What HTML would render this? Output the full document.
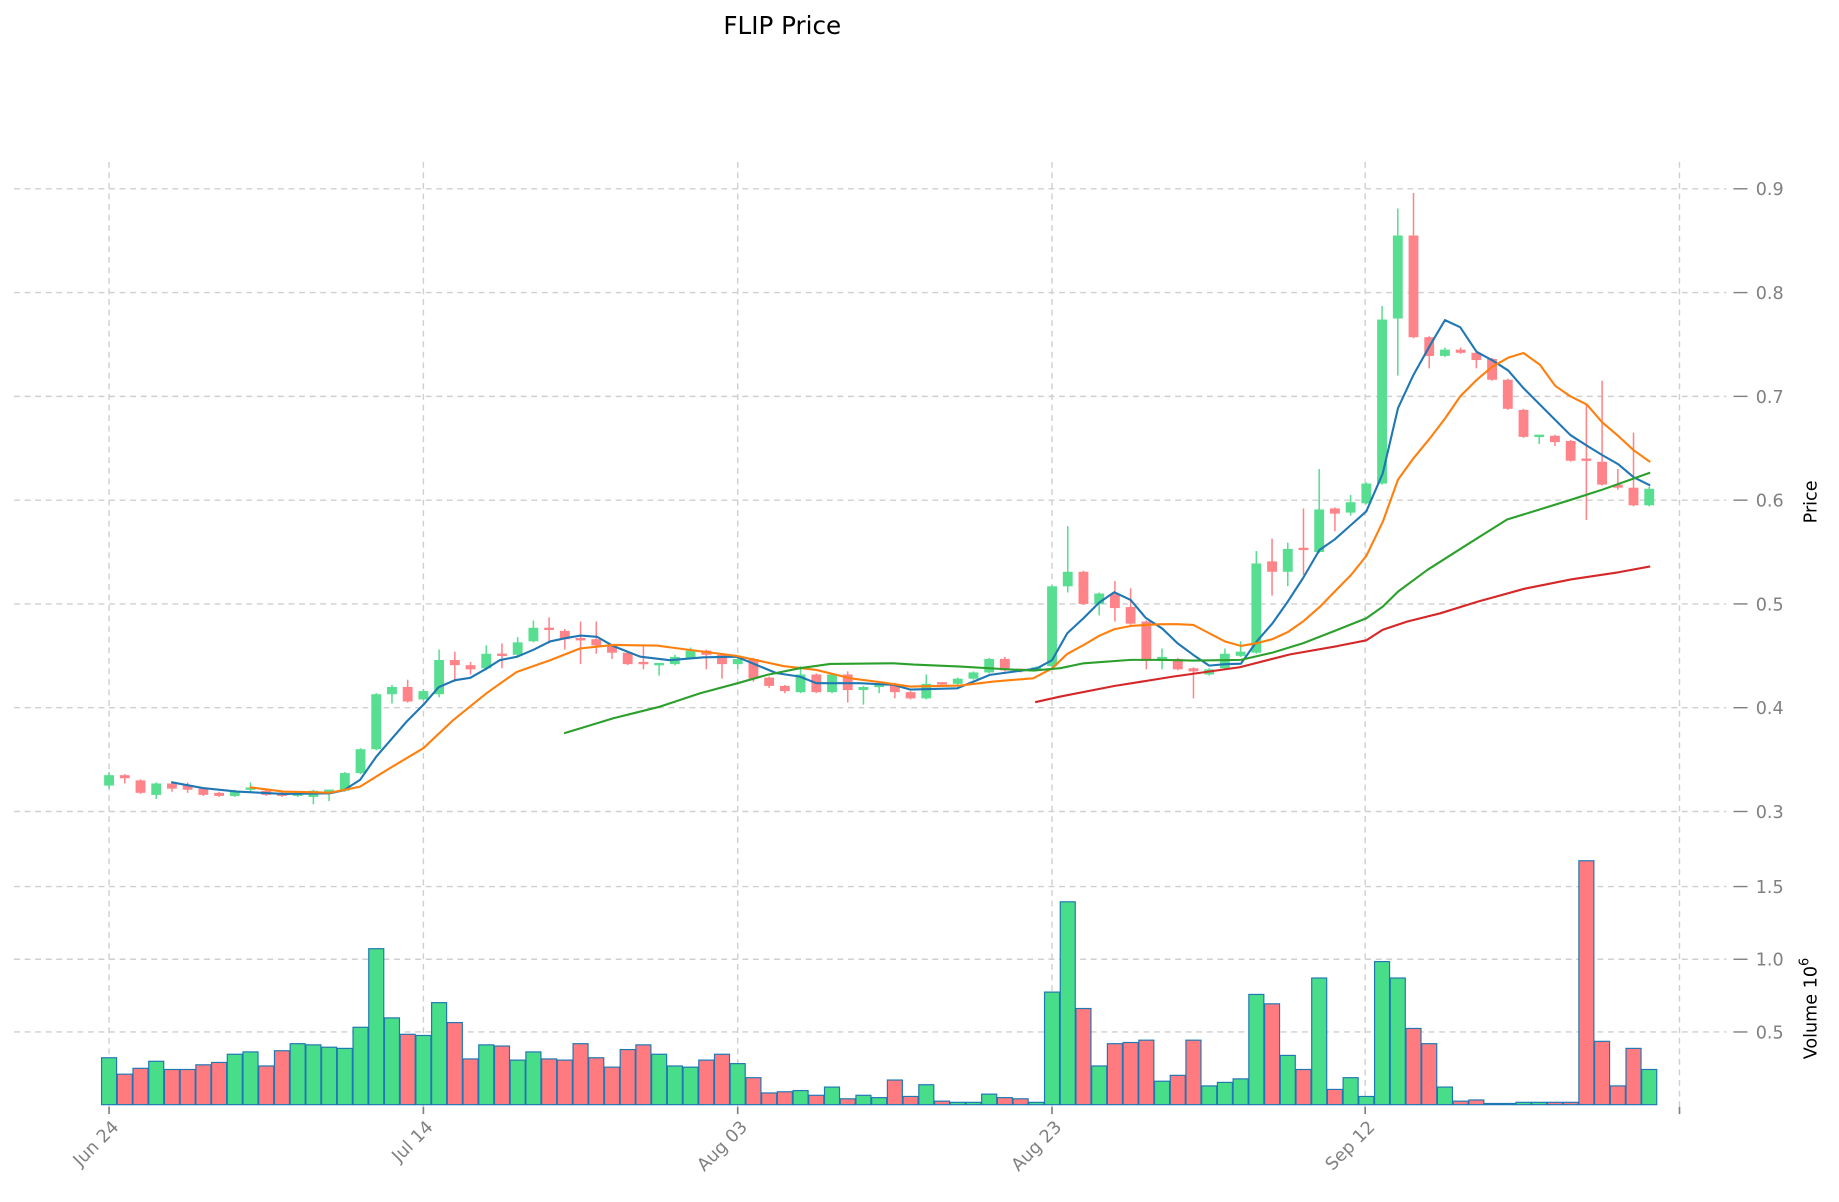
<!DOCTYPE html>
<html><head><meta charset="utf-8"><style>html,body{margin:0;padding:0;background:#fff}svg{display:block}</style></head>
<body>
<svg id="c" xmlns="http://www.w3.org/2000/svg" width="1839" height="1202" viewBox="0 0 1568 1025" preserveAspectRatio="none" font-family="'DejaVu Sans','Liberation Sans',sans-serif">
<rect width="1568" height="1025" fill="#fff"/>
<g id="grid" stroke="#cfcfcf" stroke-width="1.2" stroke-dasharray="5,4" fill="none"></g>
<g id="vol"></g>
<g id="cdl"></g>
<g id="ma" fill="none" stroke-width="1.8" stroke-linejoin="round"></g>
<g id="ax" fill="#808080" font-size="15"></g>
<text x="667" y="29" font-size="21" text-anchor="middle" fill="#000">FLIP Price</text>
<text transform="translate(1549,428) rotate(-90)" font-size="15" text-anchor="middle" fill="#000">Price</text>
<text transform="translate(1549,860) rotate(-90)" font-size="15" text-anchor="middle" fill="#000">Volume  10<tspan font-size="11" dy="-7">6</tspan></text>
</svg>
<script>
var NS="http://www.w3.org/2000/svg";
function el(p,t,a){var e=document.createElementNS(NS,t);for(var k in a)e.setAttribute(k,a[k]);p.appendChild(e);return e;}
function X(i){return 93+13.4*i;}
function Y(p){return 692-(p-0.3)*885;}
var grid=document.getElementById('grid'),ax=document.getElementById('ax');
for(var k=0;k<7;k++){var p=0.3+k*0.1,y=Y(p);el(grid,'line',{x1:12,y1:y,x2:1472,y2:y});
 el(ax,'line',{x1:1478,y1:y,x2:1490,y2:y,stroke:'#808080','stroke-width':1.2});
 var t=el(ax,'text',{x:1497,y:y+5.5});t.textContent=p.toFixed(1);}
var vl=[[0.5,880],[1.0,818],[1.5,756]];
vl.forEach(function(v){el(grid,'line',{x1:12,y1:v[1],x2:1472,y2:v[1]});
 el(ax,'line',{x1:1478,y1:v[1],x2:1490,y2:v[1],stroke:'#808080','stroke-width':1.2});
 var t=el(ax,'text',{x:1497,y:v[1]+5.5});t.textContent=v[0].toFixed(1);});
var dl=[[93,'Jun 24'],[361,'Jul 14'],[629,'Aug 03'],[897,'Aug 23'],[1164,'Sep 12'],[1432,'']];
dl.forEach(function(d){el(grid,'line',{x1:d[0],y1:138,x2:d[0],y2:944});
 el(ax,'line',{x1:d[0],y1:944,x2:d[0],y2:950,stroke:'#808080','stroke-width':1.4});
 if(d[1]){var t=el(ax,'text',{transform:'translate('+(d[0]+9)+',962) rotate(-45)','text-anchor':'end'});t.textContent=d[1];}});
var D=[[.325,.335,.338,.322],[.335,.332,.336,.327],[.330,.318,.331,.317],[.316,.327,.328,.312],[.327,.322,.329,.319],[.325,.321,.328,.318],[.322,.316,.323,.315],[.318,.315,.319,.314],[.315,.320,.321,.314],[.320,.322,.328,.319],
[.320,.316,.321,.315],[.318,.315,.319,.314],[.315,.318,.319,.314],[.314,.320,.321,.307],[.318,.320,.321,.310],[.320,.337,.338,.319],[.337,.360,.361,.336],[.360,.413,.414,.359],[.413,.420,.422,.404],[.420,.406,.427,.405],
[.408,.416,.418,.407],[.413,.446,.456,.410],[.446,.441,.454,.425],[.441,.437,.444,.432],[.438,.452,.460,.436],[.451,.449,.462,.438],[.451,.463,.468,.450],[.464,.477,.484,.463],[.476,.474,.487,.462],[.474,.466,.476,.456],
[.466,.4655,.483,.442],[.466,.460,.483,.452],[.460,.453,.461,.447],[.453,.442,.454,.441],[.443,.442,.460,.437],[.441,.442,.443,.431],[.442,.449,.451,.441],[.448,.455,.458,.447],[.455,.451,.456,.437],[.451,.442,.452,.428],
[.442,.447,.448,.437],[.447,.428,.448,.425],[.429,.421,.430,.419],[.421,.416,.422,.414],[.415,.432,.440,.414],[.432,.415,.433,.414],[.415,.432,.433,.414],[.432,.417,.435,.405],[.417,.420,.421,.403],[.419,.421,.422,.414],
[.423,.415,.424,.409],[.415,.409,.416,.408],[.409,.423,.432,.408],[.4235,.422,.424,.421],[.423,.428,.429,.422],[.428,.434,.435,.427],[.434,.447,.448,.433],[.447,.436,.449,.435],[.4365,.435,.437,.434],[.436,.439,.440,.435],
[.440,.517,.518,.439],[.517,.531,.575,.511],[.531,.500,.532,.499],[.500,.510,.511,.489],[.510,.496,.522,.483],[.497,.481,.515,.480],[.483,.445,.484,.437],[.445,.449,.457,.437],[.447,.437,.448,.436],[.438,.435,.439,.409],
[.432,.437,.438,.431],[.438,.452,.457,.437],[.450,.454,.464,.449],[.453,.539,.551,.452],[.541,.531,.563,.508],[.531,.553,.559,.517],[.553,.551,.592,.528],[.550,.591,.630,.549],[.592,.587,.593,.570],[.588,.598,.605,.585],
[.597,.616,.617,.596],[.616,.774,.787,.615],[.775,.855,.881,.720],[.855,.757,.896,.756],[.757,.739,.758,.727],[.739,.745,.747,.738],[.745,.742,.747,.741],[.742,.735,.743,.727],[.736,.716,.737,.715],[.716,.688,.717,.687],
[.687,.661,.688,.660],[.660,.662,.663,.654],[.662,.656,.663,.652],[.657,.638,.658,.637],[.639,.637,.692,.581],[.637,.615,.715,.614],[.615,.612,.630,.610],[.612,.595,.665,.594],[.595,.611,.613,.594]];
var cdl=document.getElementById('cdl');
D.forEach(function(d,i){var g=d[1]>=d[0],col=g?'#57de90':'#ff8489',x=X(i);
 el(cdl,'line',{x1:x,y1:Y(d[2]),x2:x,y2:Y(d[3]),stroke:col,'stroke-width':1.3});
 var t=Y(Math.max(d[0],d[1])),b=Y(Math.min(d[0],d[1]));if(b-t<2){t-=1;b=t+2;}
 el(cdl,'rect',{x:x-4.2,y:t,width:8.4,height:b-t,fill:col});});
var VT=[902,916,911,905,912,912,908,906,899,897,909,896,890,891,893,894,876,809,868,882,883,855,872,903,891,892,904,897,903,904,
890,902,910,895,891,899,909,910,904,899,907,919,932,931,930,934,927,937,934,936,921,935,925,939,940,940,933,936,937,940,
846,769,860,909,890,889,887,922,917,887,926,923,920,848,856,900,912,834,929,919,935,820,834,877,890,927,939,938,941,941,
940,940,940,940,734,888,926,894,912];
var VC="GRRGRRRRGGRRGGGGGGGRGGRRGRGGRRRRRRRGGGRRGRRRGRGRGGRRGRGGGRRGGGRGRRRGRRGGGGRGRGRGGGGRRGRRRRGGRRRRRRG";
var vol=document.getElementById('vol');
VT.forEach(function(t,i){var x=X(i);
 el(vol,'rect',{x:x-6.4,y:t,width:12.8,height:942-t,fill:VC[i]=='G'?'#48dd88':'#ff7b80',stroke:'#1f77b4','stroke-width':1});});
var MA={
'#1f77b4':[[146,667],[173,672],[202,675],[242,677],[281,676.5],[293,674],[307,665],[321,645],[334,630],[347,615],[361,601],[374,586],[388,580],[401,578],[415,570],[426,563],[441,560],[455,554],[469,547],[483,544],[495,542],[509,543],[523,551],[546,560],[571,563],[600,560.5],[628,560],[662,574],[682,577],[696,582.6],[733,582.6],[762,584],[776,588],[816,587],[844,575.5],[870,572],[884,570],[897,563],[910,540],[924,527],[937,514],[950,505],[964,511.6],[977,527],[991,536],[1004,548.5],[1017.5,558.5],[1031,567.6],[1044.5,566.4],[1058,566],[1071.5,547],[1085,531.5],[1098,513],[1111,493],[1125,469],[1138,460],[1152,447.6],[1165,436],[1179,403.6],[1192,348],[1205,320],[1219,295],[1232,273],[1245,279],[1259,300],[1272,307],[1286,316],[1299,331],[1313,345],[1326,358],[1339,371],[1353,380],[1366,388],[1380,396],[1393,407],[1407,414]],
'#ff7f0e':[[213,671.4],[241.6,675],[281,676],[293,673.7],[307,670.8],[332.5,655],[361,638],[386.5,614],[415,591],[440.5,573],[469,563],[494.5,553],[523,550],[560,550.5],[577,552.8],[628,559.3],[668,568],[696,571.3],[725,578.4],[753,582],[776,585.5],[818.6,584.6],[847,581.2],[881,578.4],[897,570],[910,557.6],[924,550],[937,542.3],[950,536.6],[964,533.8],[977,532.9],[991,532.3],[1004,532.3],[1017.5,532.9],[1031,540],[1044.5,547],[1058,550.8],[1071.5,548.5],[1085,545],[1098,539],[1111,530],[1125,517.8],[1138,504.5],[1152,490.2],[1165,474],[1179,445],[1192,409],[1205,391],[1219,374],[1232,357],[1245,338],[1259,324],[1272,313],[1286,305],[1299,301],[1313,311],[1326,329],[1339,338],[1353,345],[1366,360],[1380,372],[1393,384],[1407,394]],
'#2ca02c':[[481,625.3],[523,612.5],[563,602.5],[597,591.2],[629,582.6],[654,575.5],[682,569.8],[708,566.2],[762,565.6],[779,566.7],[819,568.4],[858,570.7],[881,571.8],[904,569.8],[924,565.6],[964,562.7],[991,562.7],[1017.5,563.3],[1058,562.7],[1085,556.5],[1111,548.5],[1138,538],[1165,527.2],[1179,517.3],[1192,504.5],[1217,486],[1250,465],[1285,443],[1311,435],[1340,426],[1365,418],[1407,403]],
'#d62728':[[882.6,598.8],[904,594],[950,585],[1000,577],[1057,569],[1100,558],[1140,551],[1165,546],[1179,537],[1200,530],[1228,523],[1260,513],[1300,502],[1340,494],[1380,488],[1407,483]]};
var ma=document.getElementById('ma');
for(var c in MA){el(ma,'polyline',{points:MA[c].map(function(p){return p.join(',')}).join(' '),stroke:c});}
</script>
</body></html>
